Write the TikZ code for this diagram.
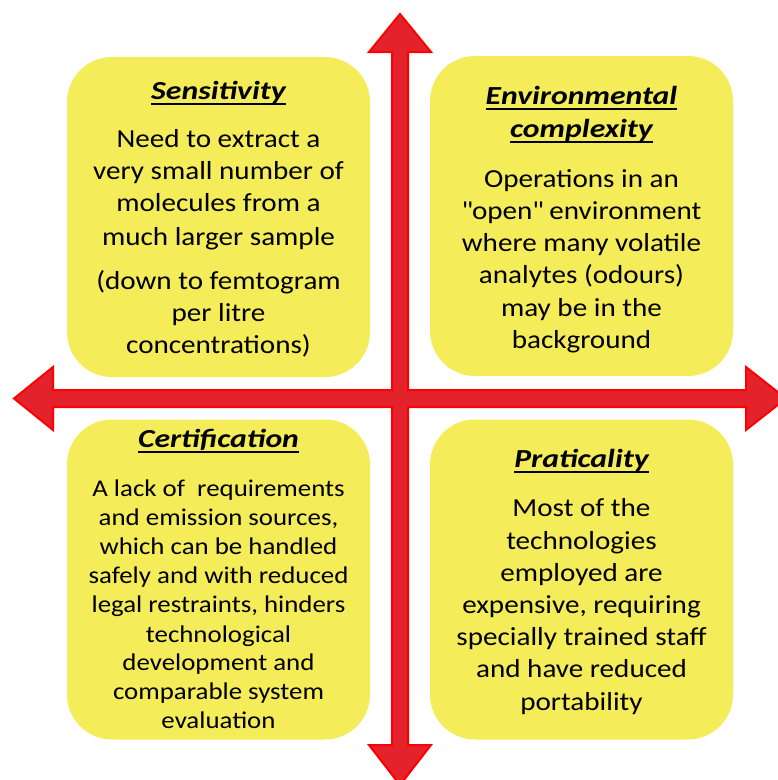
\documentclass[tikz,border=0pt]{standalone}
\usepackage{fontspec}
\setmainfont{Carlito}
\newfontfamily\bodyfont[FakeStretch=1.12]{Carlito}
\newfontfamily\headfont[FakeStretch=1.22]{Carlito}
\definecolor{boxyellow}{RGB}{244,236,88}
\definecolor{arrowfill}{RGB}{227,34,43}
\definecolor{arrowline}{RGB}{255,0,0}
\tikzset{
  panel/.style={fill=boxyellow, rounded corners=45pt, minimum width=303pt, minimum height=320pt, inner sep=0pt},
  heading/.style={font=\headfont\fontsize{26}{31}\selectfont\bfseries\itshape, inner sep=0pt, anchor=base},
  bodyline/.style={font=\bodyfont\fontsize{26}{31}\selectfont, inner sep=0pt, anchor=base},
  smallline/.style={font=\bodyfont\fontsize{24}{29}\selectfont, inner sep=0pt, anchor=base},
  headrule/.style={line width=2.5pt},
  cross/.style={fill=arrowfill, draw=arrowline, line width=2pt, line join=miter}
}
\begin{document}
\begin{tikzpicture}[x=1pt, y=-1pt]
\useasboundingbox (0,0) rectangle (778,780);
\clip (0,0) rectangle (778,780);

% four-way arrow
\draw[cross] (400,14) -- (431,52) -- (408,52) -- (408,390) -- (746,390) -- (746,367)
  -- (786,398.5) -- (746,430) -- (746,407) -- (408,407) -- (408,745) -- (431,745)
  -- (400,785) -- (369,745) -- (392,745) -- (392,407) -- (53,407) -- (53,430)
  -- (14,398.5) -- (53,367) -- (53,390) -- (392,390) -- (392,52) -- (369,52) -- cycle;

% panels
\node[panel] (tl) at (218.5,217) {};
\node[panel] (tr) at (581.5,216) {};
\node[panel] (bl) at (218.5,579.5) {};
\node[panel] (br) at (581.5,579.5) {};

% Sensitivity
\node[heading] (h1) at (218.5,99) {Sensitivity};
\draw[headrule] ([yshift=-5pt]h1.base west) -- ([yshift=-5pt]h1.base east);
\foreach \t/\yy [count=\i] in {{Need to extract a}/147, {very small number of}/179,
    {molecules from a}/211, {much larger sample}/245, {(down to femtogram}/289,
    {per litre}/321, {concentrations)}/353}
  \node[bodyline] (tlb\i) at (218.5,\yy) {\t};

% Environmental complexity
\node[heading] (h2a) at (581.5,104) {Environmental};
\draw[headrule] ([yshift=-5pt]h2a.base west) -- ([yshift=-5pt]h2a.base east);
\node[heading] (h2b) at (581.5,137) {complexity};
\draw[headrule] ([yshift=-5pt]h2b.base west) -- ([yshift=-5pt]h2b.base east);
\foreach \t/\yy [count=\i] in {{Operations in an}/187, {\textquotedbl open\textquotedbl\ environment}/219,
    {where many volatile}/251, {analytes (odours)}/283, {may be in the}/316, {background}/348}
  \node[bodyline] (trb\i) at (581.5,\yy) {\t};

% Certification
\node[heading] (h3) at (218.5,447) {Certification};
\draw[headrule] ([yshift=-5pt]h3.base west) -- ([yshift=-5pt]h3.base east);
\foreach \t/\yy [count=\i] in {{A lack of~ requirements}/496, {and emission sources,}/525,
    {which can be handled}/554, {safely and with reduced}/583, {legal restraints, hinders}/612,
    {technological}/642, {development and}/670, {comparable system}/699, {evaluation}/728}
  \node[smallline] (blb\i) at (218.5,\yy) {\t};

% Praticality
\node[heading] (h4) at (581.5,467) {Praticality};
\draw[headrule] ([yshift=-5pt]h4.base west) -- ([yshift=-5pt]h4.base east);
\foreach \t/\yy [count=\i] in {{Most of the}/516, {technologies}/549, {employed are}/581,
    {expensive, requiring}/613, {specially trained staff}/645, {and have reduced}/677,
    {portability}/710}
  \node[bodyline] (brb\i) at (581.5,\yy) {\t};
\end{tikzpicture}
\end{document}
